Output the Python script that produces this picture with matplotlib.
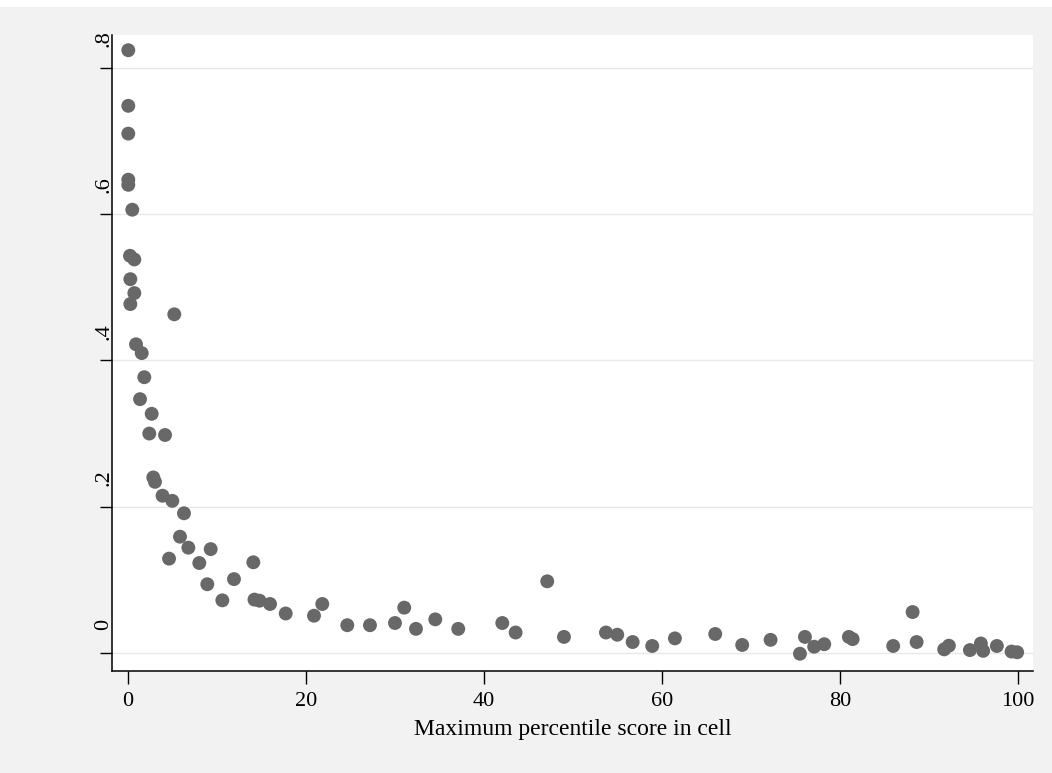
import matplotlib
matplotlib.use("Agg")
import matplotlib.pyplot as plt
import matplotlib.transforms as mtransforms

plt.rcParams['font.family'] = ['Liberation Serif', 'DejaVu Serif']

# Maximum percentile score in cell (x) and share (y)
pct = [0.03, 0.03, 0.03, 0.03, 0.03, 0.48, 0.22, 0.71, 0.26, 0.71,
       0.26, 5.20, 0.90, 1.54, 1.83, 1.35, 2.66, 2.39, 4.16, 2.84,
       3.03, 3.88, 4.98, 6.29, 5.84, 6.78, 9.29, 4.61, 8.01, 14.08,
       11.91, 8.91, 10.60, 14.21, 14.78, 15.96, 17.72, 20.90, 21.83, 24.64,
       27.19, 30.00, 31.04, 32.36, 34.53, 37.11, 42.06, 43.56, 47.11, 48.99,
       53.71, 54.98, 56.71, 58.91, 61.46, 65.99, 69.02, 72.21, 75.51, 76.07,
       77.11, 78.24, 81.01, 81.43, 85.99, 88.17, 88.62, 91.72, 92.25, 94.61,
       95.84, 96.10, 97.64, 99.29, 99.92]
share = [0.824, 0.748, 0.710, 0.647, 0.640, 0.606, 0.543, 0.538, 0.511, 0.492,
         0.477, 0.463, 0.422, 0.410, 0.377, 0.347, 0.327, 0.300, 0.298, 0.240,
         0.234, 0.215, 0.208, 0.191, 0.159, 0.144, 0.142, 0.129, 0.123, 0.124,
         0.101, 0.094, 0.072, 0.073, 0.0715, 0.067, 0.054, 0.051, 0.067, 0.038,
         0.038, 0.041, 0.062, 0.033, 0.046, 0.033, 0.041, 0.028, 0.098, 0.022,
         0.028, 0.025, 0.015, 0.0096, 0.020, 0.026, 0.011, 0.018, -0.001, 0.022,
         0.0086, 0.012, 0.022, 0.019, 0.0096, 0.056, 0.015, 0.005, 0.010, 0.004,
         0.013, 0.003, 0.0096, 0.002, 0.001]

xticks = [0, 20, 40, 60, 80, 100]
yticks = [0, 0.2, 0.4, 0.6, 0.8]
ytick_labels = ['0', '.2', '.4', '.6', '.8']

fig = plt.figure(figsize=(10.52, 7.73), dpi=100, facecolor='#f2f2f2')
# thin white strip along the top edge of the original screenshot
fig.patches.append(plt.Rectangle((0, 1 - 7 / 773), 1, 7 / 773, transform=fig.transFigure,
                                 facecolor='white', edgecolor='none', zorder=0))

ax = fig.add_axes([112 / 1052, 1 - 671 / 773, (1033 - 112) / 1052, (671 - 35) / 773])
ax.set_facecolor('white')

ax.scatter(pct, share, s=100, color='#686868', edgecolors='none', zorder=3)

ax.set_xlim(-1.8, 101.7)
ax.set_ylim(-0.0246, 0.8448)
ax.set_yticks(yticks, ytick_labels)
ax.set_xticks(xticks)
ax.grid(axis='y', color='#e8e8e8', linewidth=1.0)
ax.set_axisbelow(True)

for side in ['top', 'right']:
    ax.spines[side].set_visible(False)
for side in ['left', 'bottom']:
    ax.spines[side].set_linewidth(1.1)
    ax.spines[side].set_color('black')

ax.tick_params(axis='both', direction='out', length=9, width=1.0, labelsize=16)
ax.tick_params(axis='x', pad=6)
ax.tick_params(axis='y', pad=3)

# Stata puts the rotated y labels above their ticks
offset = mtransforms.ScaledTranslation(18 / 100, 29 / 100, fig.dpi_scale_trans)
for lab in ax.get_yticklabels():
    lab.set_rotation(90)
    lab.set_verticalalignment('center')
    lab.set_transform(lab.get_transform() + offset)

ax.set_xlabel('Maximum percentile score in cell', fontsize=17, labelpad=6)

fig.savefig('out.png', dpi=100, facecolor=fig.get_facecolor())
